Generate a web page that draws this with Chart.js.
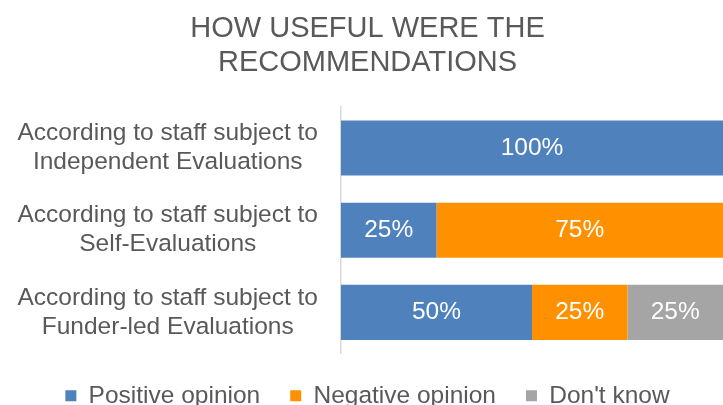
<!DOCTYPE html>
<html lang="en">
  <head>
    <meta charset="UTF-8" />
    <title>How useful were the recommendations</title>
    <script src="https://cdn.jsdelivr.net/npm/chart.js"></script>
    <style>
      html,
      body {
        margin: 0;
        padding: 0;
        background: #ffffff;
        overflow: hidden;
      }
      .wrap {
        position: relative;
        width: 723px;
        height: 418px;
      }
    </style>
  </head>
  <body>
    <div class="wrap">
      <canvas id="chart"></canvas>
    </div>

    <script>
      // Data
      const categories = [
        ["According to staff subject to", "Independent Evaluations"],
        ["According to staff subject to", "Self-Evaluations"],
        ["According to staff subject to", "Funder-led Evaluations"],
      ];
      const positiveOpinion = [100, 25, 50];
      const negativeOpinion = [0, 75, 25];
      const dontKnow = [0, 0, 25];

      const FONT = '"Liberation Sans", Arial, sans-serif';
      const TEXT = "#595959";

      // Percentage labels inside each bar segment
      const barLabels = {
        id: "barLabels",
        afterDatasetsDraw(chart) {
          const ctx = chart.ctx;
          ctx.save();
          ctx.font = "24.5px " + FONT;
          ctx.fillStyle = "#ffffff";
          ctx.textAlign = "center";
          ctx.textBaseline = "middle";
          chart.data.datasets.forEach((ds, i) => {
            chart.getDatasetMeta(i).data.forEach((bar, j) => {
              const v = ds.data[j];
              if (!v) return;
              const p = bar.getCenterPoint();
              ctx.fillText(v + "%", p.x, p.y);
            });
          });
          ctx.restore();
        },
      };

      new Chart(document.getElementById("chart"), {
        type: "bar",
        data: {
          labels: categories,
          datasets: [
            {
              label: "Positive opinion",
              data: positiveOpinion,
              backgroundColor: "#4F81BD",
            },
            {
              label: "Negative opinion",
              data: negativeOpinion,
              backgroundColor: "#FF9100",
            },
            {
              label: "Don't know",
              data: dontKnow,
              backgroundColor: "#A5A5A5",
            },
          ],
        },
        options: {
          indexAxis: "y",
          responsive: true,
          maintainAspectRatio: false,
          animation: false,
          datasets: {
            bar: {
              barPercentage: 0.67,
              categoryPercentage: 1,
              borderWidth: 0,
            },
          },
          layout: { padding: { left: 12, right: 0, top: 0, bottom: 0 } },
          scales: {
            x: {
              stacked: true,
              min: 0,
              max: 100,
              display: false,
            },
            y: {
              stacked: true,
              grid: { display: false, drawTicks: false },
              border: { display: true, color: "#D9D9D9", width: 1.5 },
              ticks: {
                color: TEXT,
                padding: 23,
                crossAlign: "center",
                font: { family: FONT, size: 24.5, lineHeight: 1.18 },
              },
              afterFit(scale) {
                scale.width = 329;
              },
            },
          },
          plugins: {
            title: {
              display: true,
              text: ["HOW USEFUL WERE THE", "RECOMMENDATIONS"],
              color: TEXT,
              font: { family: FONT, size: 29, weight: "normal", lineHeight: 1.17 },
              padding: { top: 12, bottom: 27 },
            },
            legend: {
              position: "bottom",
              labels: {
                color: TEXT,
                boxWidth: 11,
                boxHeight: 11,
                padding: 30,
                font: { family: FONT, size: 24.5 },
              },
            },
            tooltip: { enabled: false },
          },
        },
        plugins: [barLabels],
      });
    </script>
  </body>
</html>
